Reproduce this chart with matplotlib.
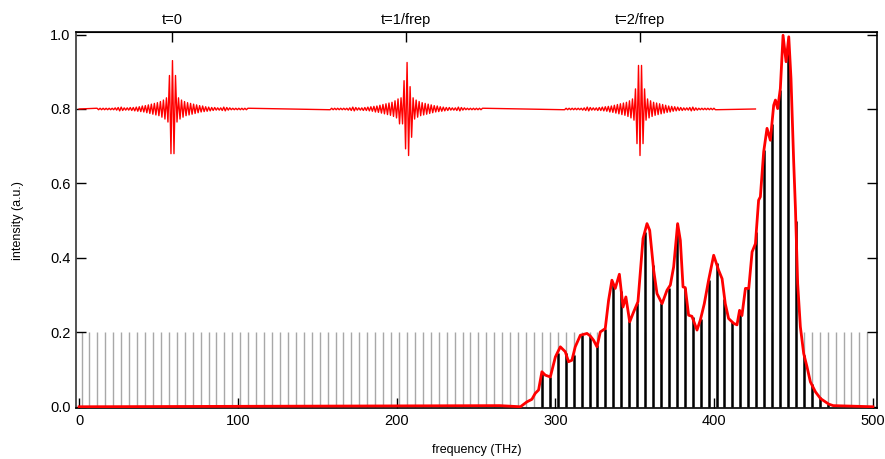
import numpy as np
import matplotlib
matplotlib.use("Agg")
import matplotlib.pyplot as plt

plt.rcParams['font.family'] = ['Liberation Sans', 'DejaVu Sans']

# comb lines (THz)
comb_f = [1.5 + 5 * i for i in range(100)]
comb_all_h = 0.2

# comb lines inside the spectrum and their heights
lit_f = [291.5 + 5 * i for i in range(37)]
lit_h = [0.094, 0.08, 0.145, 0.145, 0.14, 0.193, 0.19, 0.165, 0.21, 0.33,
         0.31, 0.23, 0.28, 0.47, 0.38, 0.28, 0.32, 0.49, 0.32, 0.24,
         0.235, 0.34, 0.385, 0.29, 0.228, 0.255, 0.318, 0.47, 0.69, 0.76,
         0.85, 0.97, 0.50, 0.14, 0.06, 0.025, 0.008]

# spectral envelope
spec_f = [0, 265, 278, 282, 285.2, 287.3, 289.4, 291.5, 293.6, 296.8, 300,
          303.1, 306.2, 308.3, 310.4, 312.5, 315.7, 319.9, 322, 324, 326.2,
          328.3, 331.4, 333.5, 335.6, 337.7, 340.3, 342.6, 344.4, 346.8,
          349.3, 352, 355.2, 357.7, 359.4, 361.9, 364, 367.2, 370.3, 372.4,
          374.5, 377, 378.7, 380.4, 381.8, 383.9, 386, 389.2, 391.3, 393.8,
          396.5, 399.7, 402.8, 405, 407, 409.1, 412.3, 414.4, 416, 417.5,
          419.7, 421.8, 423.9, 426, 428, 429.1, 431.2, 433.3, 435.4, 437.5,
          438.6, 440, 441.7, 443.4, 445.3, 447, 448.4, 450.1, 451.2, 452.6,
          454.3, 456.4, 458.5, 460.6, 463.8, 467, 472.2, 475, 500]
spec_y = [0.0, 0.003, 0.0, 0.013, 0.02, 0.036, 0.045, 0.094, 0.085, 0.08,
          0.134, 0.161, 0.148, 0.121, 0.125, 0.161, 0.192, 0.197, 0.19,
          0.179, 0.161, 0.201, 0.21, 0.286, 0.34, 0.318, 0.356, 0.268,
          0.295, 0.228, 0.255, 0.282, 0.452, 0.492, 0.474, 0.367, 0.304,
          0.277, 0.313, 0.327, 0.376, 0.492, 0.447, 0.322, 0.32, 0.246,
          0.243, 0.206, 0.233, 0.277, 0.34, 0.407, 0.367, 0.344, 0.277,
          0.237, 0.224, 0.22, 0.259, 0.245, 0.318, 0.318, 0.416, 0.438,
          0.555, 0.564, 0.685, 0.748, 0.716, 0.81, 0.824, 0.801, 0.855,
          0.998, 0.927, 0.994, 0.882, 0.658, 0.533, 0.331, 0.215, 0.143,
          0.107, 0.067, 0.04, 0.022, 0.007, 0.003, 0.0]

# pulse train (time domain, drawn on the same axes)
pulse_t = [58.8, 206.1, 353.3]
pulse_labels = ['t=0', 't=1/frep', 't=2/frep']
pulse_base = 0.8
pulse_end = 426
half_cycle = 0.95
core1 = [0.03, -0.035, 0.09, -0.12, 0.13, -0.12, 0.09, -0.035, 0.03]
core2 = [-0.04, 0.03, -0.04, 0.076, -0.107, 0.125, -0.125, 0.06, -0.076, 0.03]
core3 = [-0.03, 0.054, -0.093, 0.117, -0.125, 0.117, -0.093, 0.054, -0.03]
tail = [0.027, 0.024, 0.022, 0.02, 0.018, 0.017, 0.016, 0.015, 0.014, 0.013,
        0.012, 0.011, 0.01, 0.009, 0.008, 0.008, 0.007, 0.006, 0.006,
        0.005, 0.005, 0.004, 0.004, 0.004, 0.003, 0.003, 0.003, 0.003,
        0.004, 0.005, 0.005, 0.004, 0.003, 0.003, 0.002, 0.002, 0.002,
        0.002, 0.002, 0.002, 0.002, 0.002, 0.002, 0.002, 0.002, 0.002]


def pulse_points(center, core):
    s_left = -np.sign(core[0])
    s_right = -np.sign(core[-1])
    left = [a * s_left * (-1) ** k for k, a in enumerate(tail)][::-1]
    right = [a * s_right * (-1) ** k for k, a in enumerate(tail)]
    vals = left + list(core) + right
    n = len(vals)
    xs = center + (np.arange(n) - (n - 1) / 2) * half_cycle
    return list(xs), [pulse_base + v for v in vals]


px, py = [0], [pulse_base]
for c, core in zip(pulse_t, [core1, core2, core3]):
    xs, ys = pulse_points(c, core)
    px += xs
    py += ys
px.append(pulse_end)
py.append(pulse_base)

fig = plt.figure(figsize=(8.85, 4.59), dpi=100)
ax = fig.add_axes([0.086, 0.111, 0.905, 0.819])

ax.vlines(comb_f, 0, comb_all_h, color='#a8a8a8', lw=1.0, zorder=1)
ax.vlines(lit_f, 0, lit_h, color='black', lw=1.8, zorder=2)
ax.plot(spec_f, spec_y, color='#ff0000', lw=2.0, zorder=3)
ax.plot(px, py, color='#ff0000', lw=1.0, zorder=3)

ax.set_xlim(-1.9, 502.6)
ax.set_ylim(-0.0035, 1.0065)
ax.set_xticks([0, 100, 200, 300, 400, 500])
ax.set_yticks([0.0, 0.2, 0.4, 0.6, 0.8, 1.0])
ax.set_yticklabels(['0.0', '0.2', '0.4', '0.6', '0.8', '1.0'])
ax.tick_params(direction='in', length=7, width=1.0, labelsize=10.5,
               right=True, top=False, pad=4)
ax.set_xlabel('frequency (THz)', fontsize=9, labelpad=12)
ax.set_ylabel('intensity (a.u.)', fontsize=9, labelpad=19)

top = ax.secondary_xaxis('top')
top.set_xticks(pulse_t)
top.set_xticklabels(pulse_labels)
top.tick_params(direction='in', length=7, width=1.0, labelsize=10.5, pad=4)

for sp in ax.spines.values():
    sp.set_linewidth(1.2)
ax.spines['left'].set_color('#333333')

fig.savefig('out.png', dpi=100)
